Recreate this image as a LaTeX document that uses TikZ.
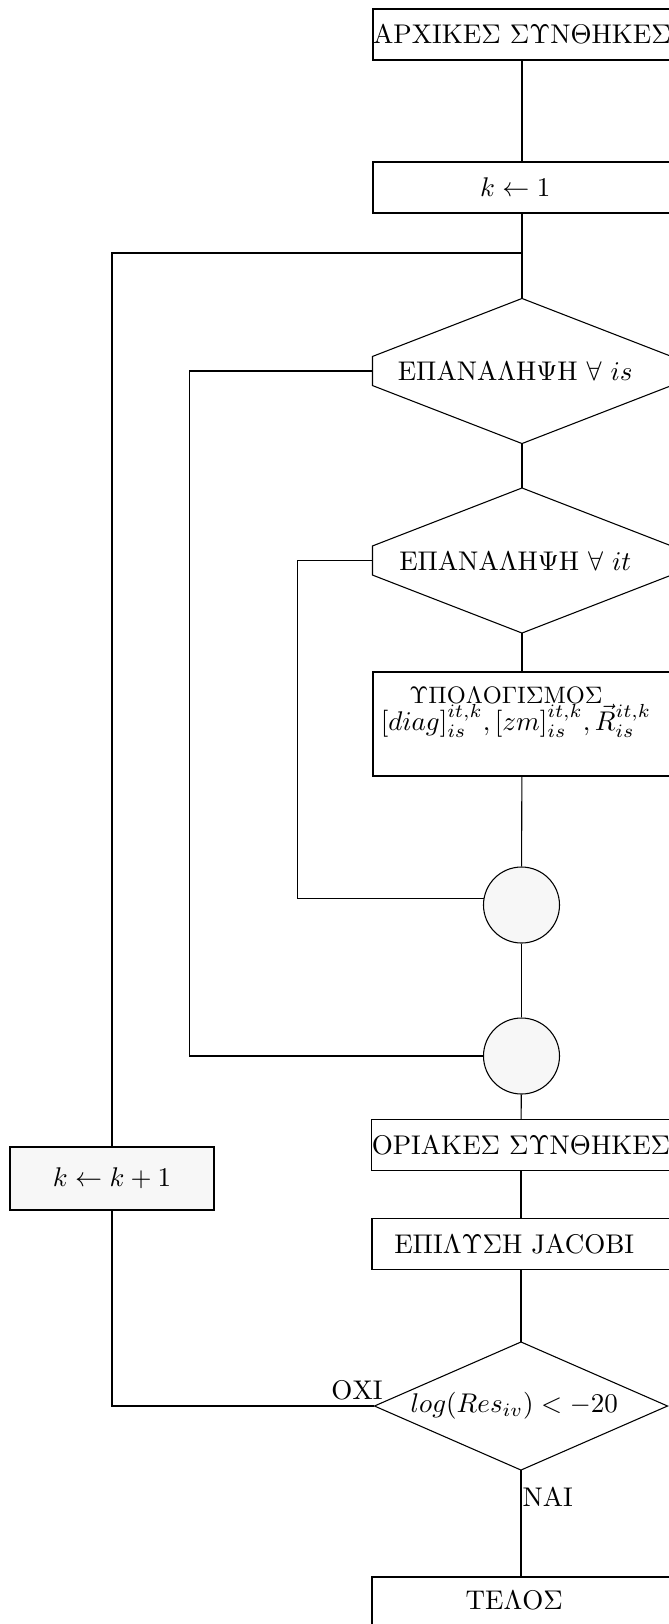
\documentclass[tikz,border=0pt]{standalone}
\usepackage{fontspec}
\usetikzlibrary{calc}
\def\pxlen{0.37pt}
\tikzset{
  x=0.37pt, y=-0.37pt,
  every node/.style={font=\fontsize{10}{12}\selectfont},
  stepbox/.style={rectangle, draw, inner sep=0pt, minimum width=298*\pxlen, minimum height=51*\pxlen},
  hexnode/.style={rectangle, inner sep=0pt, minimum width=298*\pxlen, minimum height=144*\pxlen},
  decnode/.style={rectangle, inner sep=0pt, minimum width=292*\pxlen, minimum height=127*\pxlen},
  joint/.style={circle, draw, fill=black!3, inner sep=0pt, minimum size=76*\pxlen},
  link/.style={draw, line width=0.4pt},
}
\begin{document}
\begin{tikzpicture}
\useasboundingbox (0,0) rectangle (669,1624);

% main column
\node[stepbox] (start) at (522,34.5) {ΑΡΧΙΚΕΣ ΣΥΝΘΗΚΕΣ};
\node[stepbox] (k1) at (522,187.5) {$k \leftarrow 1$\hspace*{5pt}};
\coordinate (join) at (522,253);
\node[hexnode] (h1) at (522,371) {ΕΠΑΝΑΛΗΨΗ $\forall$ $is$\hspace*{5pt}};
\node[hexnode] (h2) at (522,560.5) {ΕΠΑΝΑΛΗΨΗ $\forall$ $it$\hspace*{5pt}};
\node[stepbox, minimum height=104*\pxlen] (calc) at (522,724) {};
\node[anchor=base, inner sep=0pt, font=\fontsize{8.8}{10}\selectfont] (calctitle) at (506,703) {ΥΠΟΛΟΓΙΣΜΟΣ};
\node[anchor=base, inner sep=0pt, font=\fontsize{10.4}{12}\selectfont] (calcvars) at (516,730)
  {$[diag]^{it,k}_{is},[zm]^{it,k}_{is},\vec{R}^{it,k}_{is}$};
\node[joint] (c1) at (521.5,905) {};
\node[joint] (c2) at (521.5,1056) {};
\node[stepbox] (bc) at (521,1145) {ΟΡΙΑΚΕΣ ΣΥΝΘΗΚΕΣ};
\node[stepbox] (jac) at (521,1244) {ΕΠΙΛΥΣΗ JACOBI\hspace*{5pt}};
\node[decnode] (dec) at (521,1406) {$log(Res_{iv}) < -20$\hspace*{5pt}};
\node[stepbox] (end) at (521,1602.5) {\raisebox{2pt}{ΤΕΛΟΣ}\hspace*{5pt}};
\node[stepbox, fill=black!3, minimum width=204*\pxlen, minimum height=63*\pxlen] (kk) at (112,1178.5) {$k \leftarrow k+1$};

% outlines of the loop headers and the test
\foreach \h in {h1,h2}{
  \draw (\h.north) -- ($(\h.north east)+(0,58)$) -- ($(\h.south east)+(0,-58)$) -- (\h.south)
        -- ($(\h.south west)+(0,-58)$) -- ($(\h.north west)+(0,58)$) -- cycle;
}
\draw (dec.north) -- (dec.east) -- (dec.south) -- (dec.west) -- cycle;

% connectors
\path[link] (start) -- (k1);
\path[link] (k1) -- (join) -- (h1.north);
\path[link] (h1.south) -- (h2.north);
\path[link] (h2.south) -- (calc);
\path[link] (calc) -- (c1);
\path[link] (c1) -- (c2);
\path[link] (c2) -- (bc);
\path[link] (bc) -- (jac);
\path[link] (jac) -- (dec.north);
\path[link] (dec.south) -- (end);

% loop returns
\path[link] (h2.west) -- ++(-75,0) |- (c1.170);
\path[link] (h1.west) -- ++(-183,0) |- (c2.west);
\path[link] (dec.west) -| (kk.south);
\path[link] (kk.north) |- (join);

% branch labels
\node[anchor=south] (no) at (357,1410) {ΟΧΙ};
\node[anchor=west, inner sep=0pt] (yes) at (522,1497) {ΝΑΙ};
\end{tikzpicture}
\end{document}
